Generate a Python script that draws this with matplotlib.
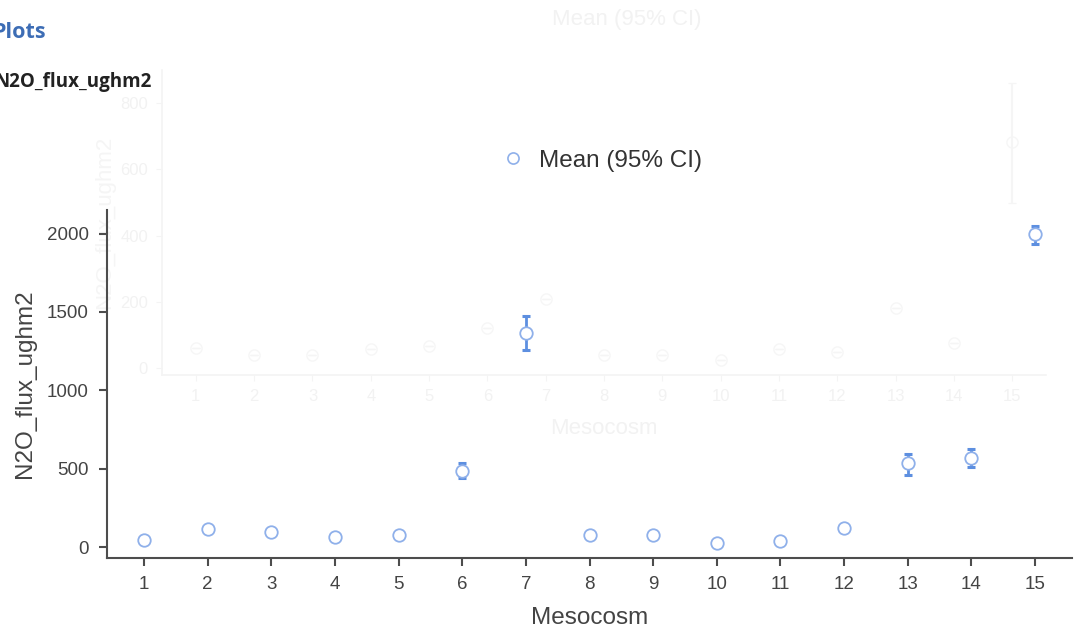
import matplotlib
matplotlib.use("Agg")
import matplotlib.pyplot as plt
from matplotlib.lines import Line2D

plt.rcParams["font.family"] = ["Liberation Sans", "DejaVu Sans"]

# Mesocosm means with 95% CI bounds
mesocosm = list(range(1, 16))
mean_flux = [43, 115, 96, 66, 75, 488, 1365, 77, 79, 28, 36, 123, 535, 571, 1994]
ci_low = [43, 115, 96, 66, 75, 441, 1259, 77, 79, 28, 36, 123, 460, 513, 1934]
ci_high = [43, 115, 96, 66, 75, 537, 1471, 77, 79, 28, 36, 123, 594, 624, 2051]
y_ticks = [0, 500, 1000, 1500, 2000]

# Faded earlier panel underneath
faded_means = [62, 38, 38, 59, 68, 122, 210, 38, 38, 24, 59, 47, 181, 77, 684]
faded_low = [62, 38, 38, 59, 68, 122, 210, 38, 38, 24, 59, 47, 181, 77, 498]
faded_high = [62, 38, 38, 59, 68, 122, 210, 38, 38, 24, 59, 47, 181, 77, 862]
faded_y_ticks = [0, 200, 400, 600, 800]

W, H = 1083, 633
fig = plt.figure(figsize=(W / 100, H / 100), dpi=100)
fig.patch.set_facecolor("white")

def box(left, top, right, bottom):
    return [left / W, 1 - bottom / H, (right - left) / W, (bottom - top) / H]

# ---- faded panel ----
ghost_line = "#f4f4f4"
ghost_text = "#f2f2f2"
gax = fig.add_axes(box(162, 70, 1046, 375), zorder=0)
gax.set_xlim(0.42, 15.58)
gax.set_ylim(-21, 900)
for s in ("top", "right"):
    gax.spines[s].set_visible(False)
for s in ("left", "bottom"):
    gax.spines[s].set_color(ghost_line)
    gax.spines[s].set_linewidth(1.2)
gax.set_xticks(mesocosm)
gax.set_yticks(faded_y_ticks)
gax.tick_params(colors=ghost_line, labelcolor=ghost_text, labelsize=12, length=4, pad=6)
gax.set_xlabel("Mesocosm", color=ghost_text, fontsize=16, labelpad=10)
gax.set_ylabel("N2O_flux_ughm2", color="#f5f5f5", fontsize=16)
gax.errorbar(mesocosm, faded_means,
             yerr=[[m - l for m, l in zip(faded_means, faded_low)],
                   [h - m for m, h in zip(faded_means, faded_high)]],
             fmt="o", mfc="none", mec="#f6f6f6", ecolor="#f5f5f5",
             ms=8, elinewidth=1.5, capsize=3)
gax.patch.set_alpha(0)
fig.text(627 / W, 1 - 19 / H, "Mean (95% CI)", color=ghost_text,
         fontsize=16, ha="center", va="center")

# ---- main panel ----
ax = fig.add_axes(box(107, 210, 1072, 558), zorder=2)
ax.patch.set_alpha(0)
ax.set_xlim(0.42, 15.58)
ax.set_ylim(-70, 2150)
for s in ("top", "right"):
    ax.spines[s].set_visible(False)
for s in ("left", "bottom"):
    ax.spines[s].set_color("#4d4d4d")
    ax.spines[s].set_linewidth(1.5)
ax.set_xticks(mesocosm)
ax.set_yticks(y_ticks)
ax.tick_params(axis="both", colors="#4d4d4d", labelcolor="#444444",
               labelsize=13.5, length=6, width=1.5, pad=7)
ax.set_xlabel("Mesocosm", fontsize=17.5, color="#444444", labelpad=10)
ax.set_ylabel("N2O_flux_ughm2", fontsize=17.5, color="#444444", labelpad=8)

yerr = [[m - l for m, l in zip(mean_flux, ci_low)],
        [h - m for m, h in zip(mean_flux, ci_high)]]
ax.errorbar(mesocosm, mean_flux, yerr=yerr, fmt="none",
            ecolor="#5d8fe0", elinewidth=2, capsize=3, capthick=2.2, zorder=3)
ax.plot(mesocosm, mean_flux, "o", ms=9, mfc="white", mec="#8fb0ea",
        mew=1.3, zorder=4)

handle = Line2D([], [], marker="o", ls="none", ms=8, mfc="white",
                mec="#8fb0ea", mew=1.2)
fig.legend([handle], ["Mean (95% CI)"], loc="center left",
           bbox_to_anchor=(501 / W, 1 - 161 / H), frameon=False,
           fontsize=17.5, handlelength=1.0, handletextpad=0.55,
           borderpad=0, borderaxespad=0, labelcolor="#333333")

# Page headings
fig.text(-8 / W, 1 - 33 / H, "Plots", color="#3d6db5", fontsize=15.5,
         fontweight="bold", family=["Open Sans", "DejaVu Sans"],
         ha="left", va="center")
fig.text(-6 / W, 1 - 82 / H, "N2O_flux_ughm2", color="#222222", fontsize=13.5,
         fontweight="bold", family=["Open Sans", "DejaVu Sans"],
         ha="left", va="center")

fig.savefig("out.png", dpi=100, facecolor="white")
